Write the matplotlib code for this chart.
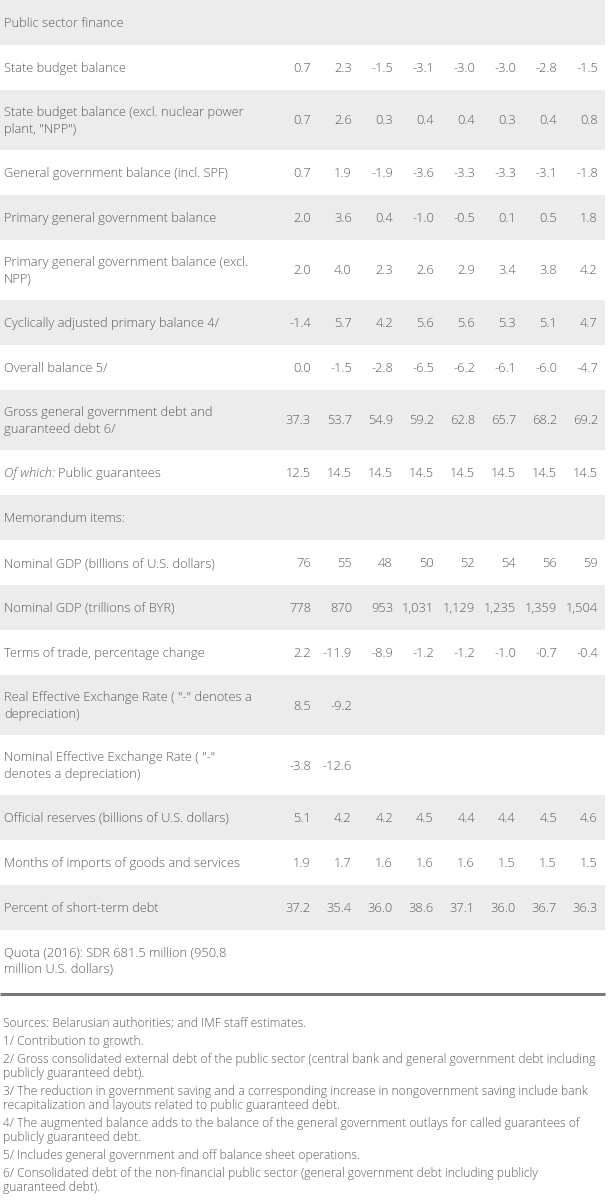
import matplotlib.pyplot as plt

# === DADOS ===
row_labels = [
    'Public sector finance',
    'State budget balance',
    'State budget balance (excl. nuclear power\nplant, "NPP")',
    'General government balance (incl. SPF)',
    'Primary general government balance',
    'Primary general government balance (excl.\nNPP)',
    'Cyclically adjusted primary balance 4/',
    'Overall balance 5/',
    'Gross general government debt and\nguaranteed debt 6/',
    'Of which: Public guarantees',
    'Memorandum items:',
    'Nominal GDP (billions of U.S. dollars)',
    'Nominal GDP (trillions of BYR)',
    'Terms of trade, percentage change',
    'Real Effective Exchange Rate ( "-" denotes a\ndepreciation)',
    'Nominal Effective Exchange Rate ( "-"\ndenotes a depreciation)',
    'Official reserves (billions of U.S. dollars)',
    'Months of imports of goods and services',
    'Percent of short-term debt',
    'Quota (2016): SDR 681.5 million (950.8\nmillion U.S. dollars)',
]

state_budget = [0.7, 2.3, -1.5, -3.1, -3.0, -3.0, -2.8, -1.5]
state_budget_excl = [0.7, 2.6, 0.3, 0.4, 0.4, 0.3, 0.4, 0.8]
gen_gov_balance = [0.7, 1.9, -1.9, -3.6, -3.3, -3.3, -3.1, -1.8]
primary_balance = [2.0, 3.6, 0.4, -1.0, -0.5, 0.1, 0.5, 1.8]
primary_balance_excl = [2.0, 4.0, 2.3, 2.6, 2.9, 3.4, 3.8, 4.2]
cyclical_primary = [-1.4, 5.7, 4.2, 5.6, 5.6, 5.3, 5.1, 4.7]
overall_balance = [0.0, -1.5, -2.8, -6.5, -6.2, -6.1, -6.0, -4.7]
gross_debt = [37.3, 53.7, 54.9, 59.2, 62.8, 65.7, 68.2, 69.2]
public_guarantees = [12.5, 14.5, 14.5, 14.5, 14.5, 14.5, 14.5, 14.5]
gdp_usd = [76, 55, 48, 50, 52, 54, 56, 59]
gdp_byr = [778, 870, 953, 1031, 1129, 1235, 1359, 1504]
terms_of_trade = [2.2, -11.9, -8.9, -1.2, -1.2, -1.0, -0.7, -0.4]
reer = [8.5, -9.2]
neer = [-3.8, -12.6]
reserves = [5.1, 4.2, 4.2, 4.5, 4.4, 4.4, 4.5, 4.6]
months_imports = [1.9, 1.7, 1.6, 1.6, 1.6, 1.5, 1.5, 1.5]
short_term_debt = [37.2, 35.4, 36.0, 38.6, 37.1, 36.0, 36.7, 36.3]

row_values = [
    [], state_budget, state_budget_excl, gen_gov_balance, primary_balance,
    primary_balance_excl, cyclical_primary, overall_balance, gross_debt,
    public_guarantees, [], gdp_usd, gdp_byr, terms_of_trade, reer, neer,
    reserves, months_imports, short_term_debt, [],
]
# linhas com inteiros (sem casa decimal)
linhas_inteiras = ['Nominal GDP (billions of U.S. dollars)', 'Nominal GDP (trillions of BYR)']

footnotes = [
    'Sources: Belarusian authorities; and IMF staff estimates.',
    '1/ Contribution to growth.',
    '2/ Gross consolidated external debt of the public sector (central bank and general government debt including\npublicly guaranteed debt).',
    '3/ The reduction in government saving and a corresponding increase in nongovernment saving include bank\nrecapitalization and layouts related to public guaranteed debt.',
    '4/ The augmented balance adds to the balance of the general government outlays for called guarantees of\npublicly guaranteed debt.',
    '5/ Includes general government and off balance sheet operations.',
    '6/ Consolidated debt of the non-financial public sector (general government debt including publicly\nguaranteed debt).',
]

# === ESTILO ===
plt.rcParams['font.family'] = ['Open Sans', 'DejaVu Sans']
cor_texto = '#5c5c5c'
cor_cinza = '#ececec'
peso = 'light'
tam = 9.25
col_right = [311, 352, 393, 434, 475, 516, 557, 598]

fig = plt.figure(figsize=(6.08, 12), dpi=100)
ax = fig.add_axes([0, 0, 1, 1])
ax.set_xlim(0, 608)
ax.set_ylim(1200, 0)
ax.axis('off')


def formata(v, label):
    if label in linhas_inteiras:
        return f'{v:,.0f}'
    return f'{v:.1f}'


renderer = fig.canvas.get_renderer()
y = 0
for i, (label, vals) in enumerate(zip(row_labels, row_values)):
    h = 60 if '\n' in label else 45
    if i % 2 == 0:
        ax.axhspan(y, y + h, xmin=0, xmax=605 / 608, color=cor_cinza, lw=0)
    yc = y + h / 2 + 1
    if label.startswith('Of which:'):
        t = ax.text(4, yc, 'Of which:', fontsize=tam, style='italic', weight=peso,
                    color=cor_texto, va='center', ha='left')
        bb = t.get_window_extent(renderer)
        ax.text(bb.x1 + 3, yc, label[len('Of which:'):].strip(), fontsize=tam, weight=peso,
                color=cor_texto, va='center', ha='left')
    else:
        ax.text(4, yc, label, fontsize=tam, weight=peso, color=cor_texto, va='center',
                ha='left', linespacing=1.35)
    for j, v in enumerate(vals):
        ax.text(col_right[j], yc, formata(v, label), fontsize=tam, weight=peso,
                color=cor_texto, va='center', ha='right')
    y += h

# linha separadora
ax.plot([0, 605], [y + 4, y + 4], color='#777777', lw=2.2, solid_capstyle='butt')

# === NOTAS ===
yf = y + 27
for nota in footnotes:
    ax.text(3, yf, nota, fontsize=8.65, weight=peso, color=cor_texto, va='top', ha='left',
            linespacing=1.08)
    n = nota.count('\n') + 1
    yf += 18 + (n - 1) * 14

fig.savefig('out.png', dpi=100)
